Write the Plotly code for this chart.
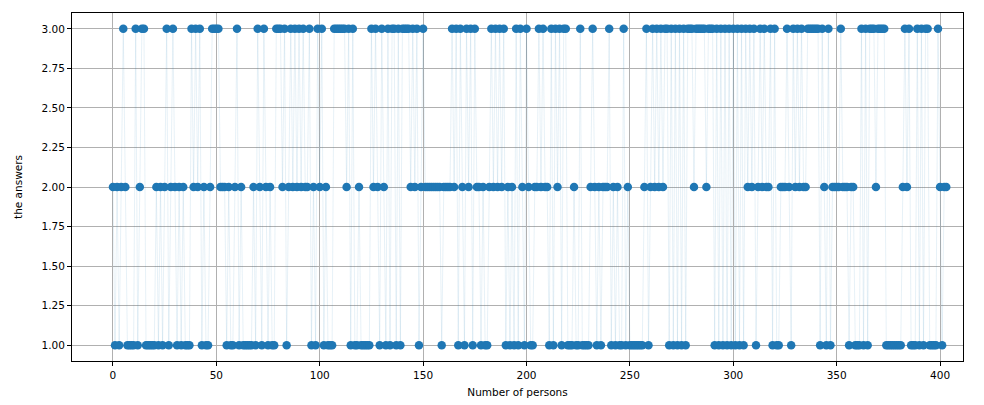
import plotly.graph_objects as go

# Answer (1, 2 or 3) given by each person, in order of person index
answers_000_049 = [2, 1, 2, 1, 2, 3, 2, 1, 1, 1, 1, 3, 1, 2, 3, 3, 1, 1, 1, 1,
                   1, 2, 1, 2, 1, 2, 3, 1, 2, 3, 2, 1, 2, 1, 2, 1, 1, 1, 3, 2,
                   3, 2, 3, 1, 2, 1, 1, 2, 3, 3]
answers_050_099 = [3, 3, 2, 2, 2, 1, 2, 1, 1, 2, 3, 1, 2, 1, 1, 1, 1, 1, 2, 1,
                   3, 2, 1, 3, 2, 1, 2, 1, 1, 3, 3, 3, 2, 3, 1, 2, 3, 2, 3, 2,
                   3, 2, 3, 2, 2, 3, 1, 2, 1, 3]
answers_100_149 = [2, 3, 1, 2, 1, 1, 1, 3, 3, 3, 3, 3, 3, 2, 3, 1, 3, 1, 1, 2,
                   1, 1, 1, 1, 1, 3, 2, 3, 2, 1, 3, 2, 1, 3, 1, 3, 3, 1, 3, 1,
                   3, 3, 3, 3, 2, 3, 2, 3, 1, 2]
answers_150_199 = [3, 2, 2, 2, 2, 2, 2, 2, 2, 1, 2, 2, 2, 2, 3, 2, 3, 1, 3, 2,
                   1, 3, 2, 3, 1, 3, 2, 2, 1, 2, 1, 1, 2, 3, 2, 3, 2, 3, 2, 3,
                   1, 2, 1, 2, 1, 3, 1, 3, 2, 1]
answers_200_249 = [3, 2, 1, 1, 2, 2, 3, 2, 3, 2, 2, 1, 3, 1, 3, 2, 3, 1, 3, 3,
                   1, 1, 1, 2, 1, 1, 3, 1, 1, 1, 1, 2, 3, 2, 1, 2, 1, 2, 2, 2,
                   3, 1, 2, 1, 2, 1, 1, 3, 1, 2]
answers_250_299 = [1, 1, 1, 1, 1, 1, 1, 2, 3, 1, 2, 3, 2, 3, 2, 3, 2, 3, 3, 1,
                   3, 1, 3, 1, 3, 1, 3, 1, 3, 3, 3, 2, 3, 3, 3, 3, 3, 2, 3, 3,
                   3, 1, 3, 1, 3, 1, 3, 1, 3, 1]
answers_300_349 = [3, 1, 3, 1, 3, 1, 3, 2, 3, 2, 3, 1, 2, 3, 2, 3, 2, 2, 3, 1,
                   3, 1, 1, 2, 2, 2, 3, 2, 1, 3, 2, 3, 2, 3, 2, 2, 3, 3, 3, 3,
                   3, 3, 1, 3, 2, 1, 3, 1, 2, 2]
answers_350_403 = [2, 2, 3, 2, 2, 2, 1, 2, 2, 1, 1, 1, 3, 1, 3, 1, 3, 3, 3, 2,
                   3, 3, 3, 3, 1, 1, 1, 1, 1, 1, 1, 1, 2, 3, 2, 3, 1, 1, 1, 3,
                   1, 3, 1, 3, 3, 1, 1, 1, 1, 3, 2, 1, 2, 2]

answers = (answers_000_049 + answers_050_099 + answers_100_149 + answers_150_199
           + answers_200_249 + answers_250_299 + answers_300_349 + answers_350_403)
persons = list(range(len(answers)))

x_ticks = [0, 50, 100, 150, 200, 250, 300, 350, 400]
y_ticks = [1.0, 1.25, 1.5, 1.75, 2.0, 2.25, 2.5, 2.75, 3.0]
y_tick_text = ["1.00", "1.25", "1.50", "1.75", "2.00", "2.25", "2.50", "2.75", "3.00"]

blue = "#1f77b4"

fig = go.Figure()
# faint connecting line between consecutive answers
fig.add_trace(go.Scatter(
    x=persons, y=answers, mode="lines",
    line=dict(color="rgba(31,119,180,0.18)", width=0.6),
    hoverinfo="skip", showlegend=False,
))
# one marker per person
fig.add_trace(go.Scatter(
    x=persons, y=answers, mode="markers",
    marker=dict(color=blue, size=8.5, line=dict(width=0)),
    showlegend=False,
))

axis_common = dict(
    showline=True, linecolor="black", linewidth=1, mirror=True,
    ticks="outside", ticklen=4, tickwidth=1, tickcolor="black",
    showgrid=True, gridcolor="#b0b0b0", gridwidth=0.8,
    zeroline=False, automargin=False,
    tickfont=dict(family="DejaVu Sans", size=10.5, color="black"),
)

fig.update_layout(
    width=984, height=405,
    margin=dict(l=72, r=21, t=13, b=44),
    paper_bgcolor="white", plot_bgcolor="white",
    font=dict(family="DejaVu Sans", size=10.5, color="black"),
    xaxis=dict(
        range=[-19.8, 411.1], tickvals=x_ticks,
        title=dict(text="Number of persons", standoff=9,
                   font=dict(family="DejaVu Sans", size=10.5)),
        **axis_common,
    ),
    yaxis=dict(
        range=[0.9, 3.1], tickvals=y_ticks, ticktext=y_tick_text,
        title=dict(text="the answers", standoff=16,
                   font=dict(family="DejaVu Sans", size=10.5)),
        **axis_common,
    ),
)

fig.write_html("out.html")
